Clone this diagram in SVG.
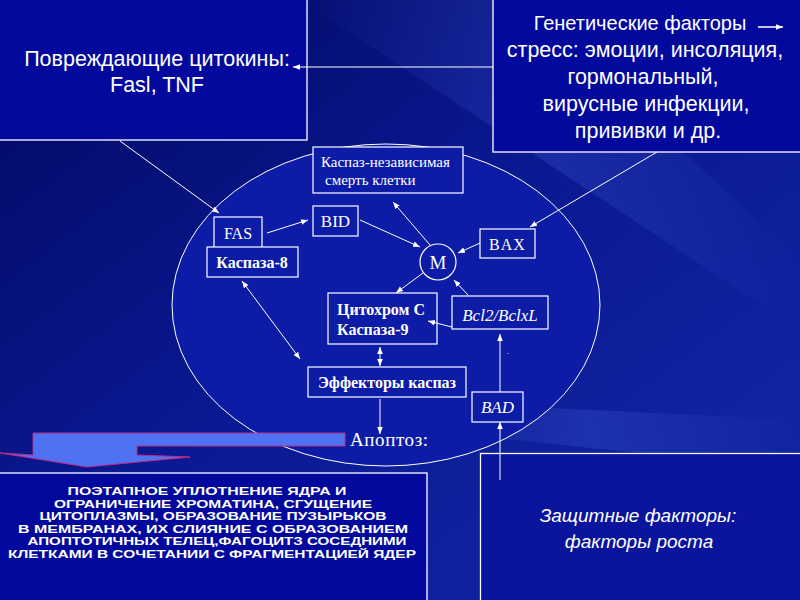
<svg xmlns="http://www.w3.org/2000/svg" width="800" height="600" viewBox="0 0 800 600">
<defs>
<linearGradient id="bg" x1="0" y1="0" x2="1" y2="1">
<stop offset="0" stop-color="#020760"/>
<stop offset="0.45" stop-color="#0a1890"/>
<stop offset="1" stop-color="#1328a8"/>
</linearGradient>
<linearGradient id="streak" x1="0" y1="0" x2="1" y2="0">
<stop offset="0" stop-color="#6080ff" stop-opacity="0"/>
<stop offset="0.5" stop-color="#6080ff" stop-opacity="0.18"/>
<stop offset="1" stop-color="#6080ff" stop-opacity="0"/>
</linearGradient>
<marker id="ah" viewBox="0 0 10 10" refX="10" refY="5" markerWidth="7" markerHeight="7" markerUnits="userSpaceOnUse" orient="auto-start-reverse">
<path d="M0,1 L10,5 L0,9 z" fill="#fff"/>
</marker>
</defs>
<style>
.box{fill:#03099c;stroke:#fff;stroke-width:1.3}
.node{fill:#0c1ca6;stroke:#fff;stroke-width:1.2}
.sans{font-family:"Liberation Sans",Arial,sans-serif;fill:#fff}
.serif{font-family:"Liberation Serif","Times New Roman",serif;fill:#fff}
.con line{stroke:#fff;stroke-width:1}
</style>
<rect x="0" y="0" width="800" height="600" fill="url(#bg)"/>
<polygon points="300,0 520,0 800,260 800,330" fill="url(#streak)"/>
<polygon points="380,400 800,420 800,470 420,430" fill="url(#streak)"/>
<ellipse id="cell" cx="386" cy="305" rx="214" ry="161" fill="#0c1ca6" stroke="#fff" stroke-width="1"/>

<g id="damaging-cytokines">
<rect class="box" x="-1" y="-1" width="308" height="141"/>
<text class="sans" x="157" y="66" font-size="21.5" text-anchor="middle">Повреждающие цитокины:</text>
<text class="sans" x="157" y="92" font-size="21.5" text-anchor="middle">Fasl, TNF</text>
</g>

<g id="genetic-factors">
<rect class="box" x="493" y="-1" width="310" height="153"/>
<text class="sans" x="640" y="30" font-size="20" text-anchor="middle">Генетические факторы</text>
<line x1="758" y1="27" x2="783" y2="27" stroke="#fff" stroke-width="1.5" marker-end="url(#ah)"/>
<text class="sans" x="645" y="57" font-size="21.5" text-anchor="middle">стресс: эмоции, инсоляция,</text>
<text class="sans" x="643" y="84" font-size="21.5" text-anchor="middle">гормональный,</text>
<text class="sans" x="646" y="111" font-size="21.5" text-anchor="middle">вирусные инфекции,</text>
<text class="sans" x="648" y="138" font-size="21.5" text-anchor="middle">прививки и др.</text>
</g>

<g id="caspase-independent">
<rect class="node" x="313" y="147" width="150" height="46"/>
<text class="serif" x="321" y="167" font-size="15">Каспаз-независимая</text>
<text class="serif" x="325" y="185" font-size="15">смерть клетки</text>
</g>

<g id="fas">
<rect class="node" x="214" y="217" width="48" height="32"/>
<text class="serif" x="238" y="239" font-size="16" text-anchor="middle">FAS</text>
</g>

<g id="caspase-8">
<rect class="node" x="207" y="247" width="91" height="30"/>
<text class="serif" x="252" y="268" font-size="16" font-weight="bold" text-anchor="middle">Каспаза-8</text>
</g>

<g id="bid">
<rect class="node" x="313" y="206" width="45" height="30"/>
<text class="serif" x="335.5" y="227" font-size="17" text-anchor="middle">BID</text>
</g>

<g id="m">
<circle cx="438" cy="262" r="18" fill="#0c1ca6" stroke="#fff" stroke-width="1.2"/>
<text class="serif" x="438" y="269" font-size="19" text-anchor="middle">M</text>
</g>

<g id="bax">
<rect class="node" x="480" y="229" width="55" height="29"/>
<text class="serif" x="507.5" y="250" font-size="16" letter-spacing="1" text-anchor="middle">BAX</text>
</g>

<g id="bcl2">
<rect class="node" x="452" y="296" width="96" height="33"/>
<text class="serif" x="500" y="321" font-size="17" font-style="italic" text-anchor="middle">Bcl2/BclxL</text>
</g>

<g id="cytochrome">
<rect class="node" x="328" y="293" width="109" height="51"/>
<text class="serif" x="337" y="315" font-size="16" font-weight="bold">Цитохром С</text>
<text class="serif" x="337" y="335" font-size="16" font-weight="bold">Каспаза-9</text>
</g>

<g id="effectors">
<rect class="node" x="308" y="367" width="158" height="30"/>
<text class="serif" x="387" y="388" font-size="16" font-weight="bold" text-anchor="middle">Эффекторы каспаз</text>
</g>

<g id="bad">
<rect class="node" x="472" y="392" width="51" height="30"/>
<text class="serif" x="497.5" y="413" font-size="17" font-style="italic" text-anchor="middle">BAD</text>
</g>

<text class="serif" x="507" y="354" font-size="8">.</text>

<g id="apoptosis">
<polygon points="33,433 345,433 345,446 137,446 137,455 190,457 87,467 0,453 33,455" fill="#4f72f2" stroke="#c02a80" stroke-width="1"/>
<text class="serif" x="350" y="446" font-size="19" letter-spacing="0.6">Апоптоз:</text>
</g>

<g id="apoptosis-description">
<rect class="box" x="-1" y="473" width="428" height="130"/>
<g class="sans" font-size="11.5" font-weight="bold" text-anchor="middle">
<text x="207" y="495" textLength="279" lengthAdjust="spacingAndGlyphs">ПОЭТАПНОЕ УПЛОТНЕНИЕ ЯДРА И</text>
<text x="213" y="507.5" textLength="318" lengthAdjust="spacingAndGlyphs">ОГРАНИЧЕНИЕ ХРОМАТИНА, СГУЩЕНИЕ</text>
<text x="213" y="520" textLength="347" lengthAdjust="spacingAndGlyphs">ЦИТОПЛАЗМЫ, ОБРАЗОВАНИЕ ПУЗЫРЬКОВ</text>
<text x="213" y="532.5" textLength="390" lengthAdjust="spacingAndGlyphs">В МЕМБРАНАХ, ИХ СЛИЯНИЕ С ОБРАЗОВАНИЕМ</text>
<text x="217" y="545" textLength="379" lengthAdjust="spacingAndGlyphs">АПОПТОТИЧНЫХ ТЕЛЕЦ,ФАГОЦИТЗ СОСЕДНИМИ</text>
<text x="212" y="557.5" textLength="408" lengthAdjust="spacingAndGlyphs">КЛЕТКАМИ В СОЧЕТАНИИ С ФРАГМЕНТАЦИЕЙ ЯДЕР</text>
</g>
</g>

<g id="protective-factors">
<rect x="480.5" y="453.5" width="330" height="160" fill="#0a149c" stroke="#fff" stroke-width="1.3"/>
<text class="sans" x="638" y="522" font-size="19" font-style="italic" text-anchor="middle">Защитные факторы:</text>
<text class="sans" x="639" y="548" font-size="19" font-style="italic" text-anchor="middle">факторы роста</text>
</g>

<g id="connectors" class="con">
<line x1="493" y1="67" x2="293" y2="67" marker-end="url(#ah)"/>
<line x1="120" y1="141" x2="219" y2="213" marker-end="url(#ah)"/>
<line x1="657" y1="152" x2="530" y2="227" marker-end="url(#ah)"/>
<line x1="267" y1="233" x2="308" y2="220" marker-end="url(#ah)"/>
<line x1="360" y1="220" x2="420" y2="247" marker-end="url(#ah)"/>
<line x1="430" y1="245" x2="393" y2="202" marker-end="url(#ah)"/>
<line x1="480" y1="243" x2="458" y2="253" marker-end="url(#ah)"/>
<line x1="423" y1="273" x2="396" y2="293" marker-end="url(#ah)"/>
<line x1="468" y1="295" x2="454" y2="280" marker-end="url(#ah)"/>
<line x1="452" y1="327" x2="428" y2="321" marker-end="url(#ah)"/>
<line x1="500" y1="392" x2="500" y2="334" marker-end="url(#ah)"/>
<line x1="500" y1="480" x2="500" y2="422" marker-end="url(#ah)"/>
<line x1="242" y1="281" x2="300" y2="359" marker-start="url(#ah)" marker-end="url(#ah)"/>
<line x1="380" y1="347" x2="380" y2="366" marker-start="url(#ah)" marker-end="url(#ah)"/>
<line x1="380" y1="399" x2="380" y2="434" marker-end="url(#ah)"/>
</g>
</svg>
